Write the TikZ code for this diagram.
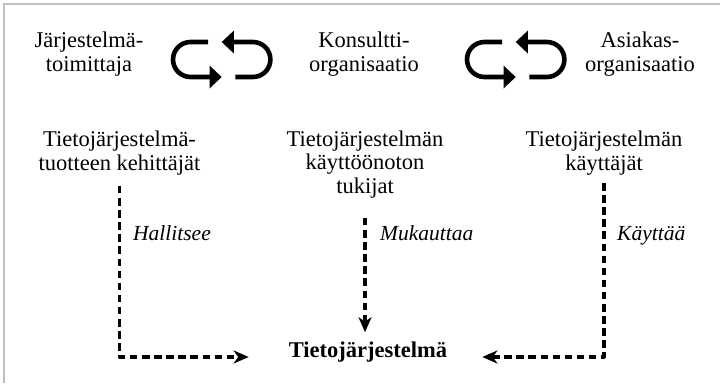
\documentclass[tikz,border=0pt]{standalone}
\usepackage{fontspec}
\setmainfont{Liberation Serif}
\usetikzlibrary{arrows.meta}
\tikzset{
  lbl/.style={inner sep=0pt, align=center, anchor=base,
    font=\fontsize{22.5}{23.5}\selectfont},
  verb/.style={inner sep=0pt, anchor=base west,
    font=\fontsize{21.5}{23}\selectfont\itshape},
  conn/.style={line width=3.2pt, dash pattern=on 7.5pt off 4.6pt, line join=round,
    -{Stealth[length=15pt,width=13pt,inset=4.5pt]}},
  loopline/.style={line width=4.6pt},
  frameline/.style={draw=black!25, line width=1.6pt},
}
\newcommand{\loopicon}[1]{%
  \begin{scope}[xshift=#1]
    \draw[loopline] (208,42) -- (190.5,42) arc[start angle=270,end angle=90,radius=17.5] -- (211,77);
    \fill (221.7,77) -- (209.5,65.5) -- (209.5,88.5) -- cycle;
    \draw[loopline] (235.4,77) -- (252.9,77) arc[start angle=90,end angle=-90,radius=17.5] -- (232.4,42);
    \fill (221.7,42) -- (233.9,30.5) -- (233.9,53.5) -- cycle;
  \end{scope}}
\begin{document}
\begin{tikzpicture}[x=1pt,y=-1pt]
  \useasboundingbox (0,0) rectangle (720,383);
  \draw[frameline] (4,383) -- (4,4) -- (720,4);
  % top row (anchor = baseline of the last line)
  \node[lbl] (supplier) at (89,71) {Järjestelmä-\\toimittaja};
  \node[lbl] (consult) at (364,71) {Konsultti-\\organisaatio};
  \node[lbl] (client) at (640,71) {Asiakas-\\organisaatio};
  \loopicon{0pt}
  \loopicon{294pt}
  % second row
  \node[lbl] (dev) at (119.5,170) {Tietojärjestelmä-\\tuotteen kehittäjät};
  \node[lbl] (cons) at (365,193) {Tietojärjestelmän\\käyttöönoton\\tukijat};
  \node[lbl] (users) at (604,170) {Tietojärjestelmän\\käyttäjät};
  % system
  \node[lbl, font=\fontsize{22.5}{23.5}\selectfont\bfseries] (sys) at (368,357) {Tietojärjestelmä};
  % connectors
  \draw[conn, shorten <=11pt, shorten >=40pt] (dev.south) |- (sys.base west);
  \draw[conn, shorten <=20pt, shorten >=9pt] (cons.south) -- (cons.south |- sys.north);
  \draw[conn, shorten <=8pt, shorten >=35pt] (users.south) |- (sys.base east);
  % labels
  \node[verb] (l1) at (133,240) {Hallitsee};
  \node[verb] (l2) at (380,240) {Mukauttaa};
  \node[verb] (l3) at (617,240) {Käyttää};
\end{tikzpicture}
\end{document}
